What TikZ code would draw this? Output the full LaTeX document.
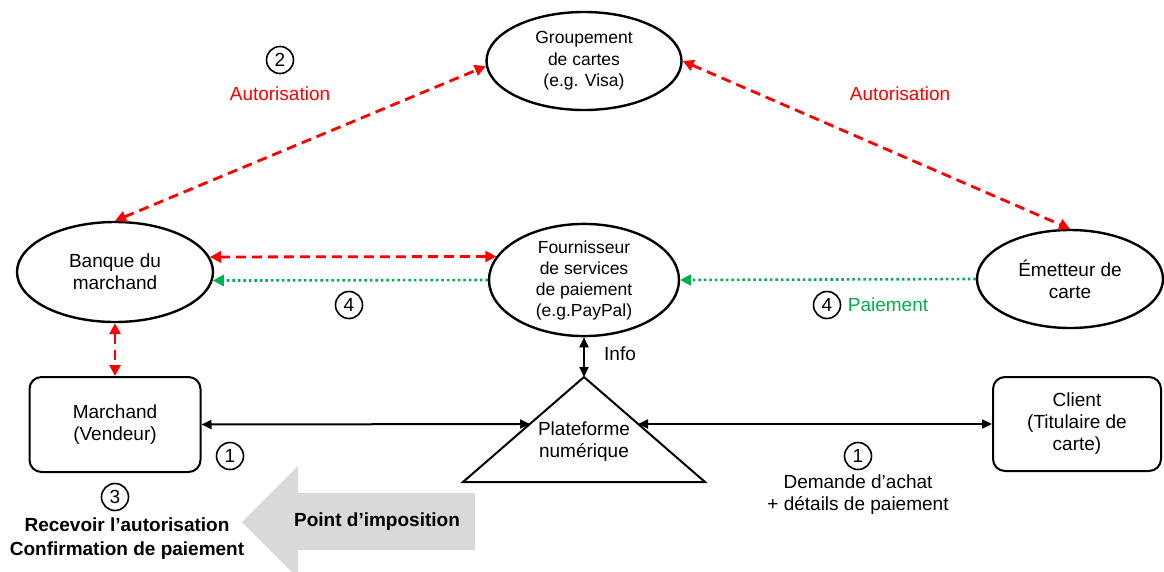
\documentclass[tikz,border=0pt]{standalone}
\usepackage{fontspec}
\setmainfont{Liberation Sans}
\usetikzlibrary{arrows.meta, shapes.geometric, calc}
\definecolor{authred}{RGB}{255,0,0}
\definecolor{paygreen}{RGB}{0,176,80}
\definecolor{taxgray}{RGB}{217,217,217}

\begin{document}
\begin{tikzpicture}[
    x=1pt, y=-1pt,
    font={\fontsize{19}{22}\selectfont},
    party/.style={
        draw=black,
        ellipse,
        line width=2.4pt,
        align=center,
        inner sep=0pt
    },
    actor/.style={
        draw=black,
        rounded corners=12pt,
        line width=2pt,
        align=center,
        inner sep=0pt,
        minimum width=171pt,
        minimum height=95pt
    },
    stepnum/.style={
        draw=black,
        circle,
        line width=1.6pt,
        inner sep=0pt,
        minimum size=27pt
    },
    flow/.style={
        {Triangle[length=10pt,width=9pt]}-{Triangle[length=10pt,width=9pt]},
        line width=2pt
    },
    authflow/.style={
        {Triangle[length=11pt,width=11pt]}-{Triangle[length=11pt,width=11pt]},
        draw=authred,
        line width=2.8pt,
        dash pattern=on 10pt off 6pt
    },
    payflow/.style={
        -{Triangle[length=11pt,width=11pt]},
        draw=paygreen,
        line width=2.6pt,
        dash pattern=on 2.5pt off 3pt
    }
]

\useasboundingbox (0,0) rectangle (1164,571);

% ------------------------------------------------------------
% Parties
% ------------------------------------------------------------
\node[party, minimum width=195pt, minimum height=98pt,
      font={\fontsize{17.5}{21.5}\selectfont}] (visa) at (584,61)
    {Groupement\\de cartes\\(e.g. Visa)};
\node[party, minimum width=196pt, minimum height=100pt] (banque) at (115,272)
    {Banque du\\marchand};
\node[party, minimum width=190pt, minimum height=96pt,
      font={\fontsize{17.5}{21}\selectfont}] (psp) at (584,280)
    {Fournisseur\\de services\\de paiement\\(e.g.PayPal)};
\node[party, minimum width=186pt, minimum height=98pt] (emetteur) at (1070,279)
    {Émetteur de\\carte};

\node[actor] (marchand) at (115,424.5) {Marchand\\(Vendeur)};
\node[actor, minimum width=168pt, minimum height=94pt] (client) at (1077,424)
    {Client\\(Titulaire de\\carte)};

% platform triangle
\coordinate (apex) at (584,377);
\coordinate (baseL) at (463,482);
\coordinate (baseR) at (705,482);
\coordinate (platW) at (530,424);
\coordinate (platE) at (638,424);
\draw[line width=2pt, line join=miter] (apex) -- (baseR) -- (baseL) -- cycle;
\node[align=center] (plat) at (584,442) {Plateforme\\numérique};

% ------------------------------------------------------------
% Flows
% ------------------------------------------------------------
\draw[authflow] (banque.north) -- (visa.183);
\draw[authflow] (visa.east) -- (emetteur.north);
\draw[authflow] (banque.9) -- (psp.165);
\draw[authflow] (banque.south) -- (marchand.north);

\draw[payflow] (psp.west) -- (banque.-5);
\draw[payflow] (emetteur.west) -- (psp.east);

\draw[flow] (marchand.east) -- (platW);
\draw[flow] (platE) -- (client.west);
\draw[flow] (psp.south) -- (apex);

% ------------------------------------------------------------
% Labels
% ------------------------------------------------------------
\node[stepnum] (n2) at (280,60) {2};
\node[text=authred] (autL) at (280,94) {Autorisation};
\node[text=authred] (autR) at (900,94) {Autorisation};

\node[stepnum] (n4a) at (349,305) {4};
\node[stepnum] (n4b) at (827,305) {4};
\node[text=paygreen] (paie) at (888,305) {Paiement};

\node (info) at (620,354) {Info};

\node[stepnum] (n1a) at (230,456) {1};
\node[stepnum] (n1b) at (858,456) {1};
\node[align=center] (demande) at (858,495) {Demande d’achat\\+ détails de paiement};

\node[stepnum] (n3) at (115,497) {3};
\node[align=center, font={\fontsize{19}{24}\selectfont\bfseries}] (recu) at (127,539)
    {Recevoir l’autorisation\\Confirmation de paiement};

% tax point arrow
\fill[taxgray] (242,522) -- (298,466) -- (298,493) -- (475,493) -- (475,550)
    -- (298,550) -- (298,578) -- cycle;
\node[font={\fontsize{19}{22}\selectfont\bfseries}] (impo) at (377,522) {Point d’imposition};

\end{tikzpicture}
\end{document}
